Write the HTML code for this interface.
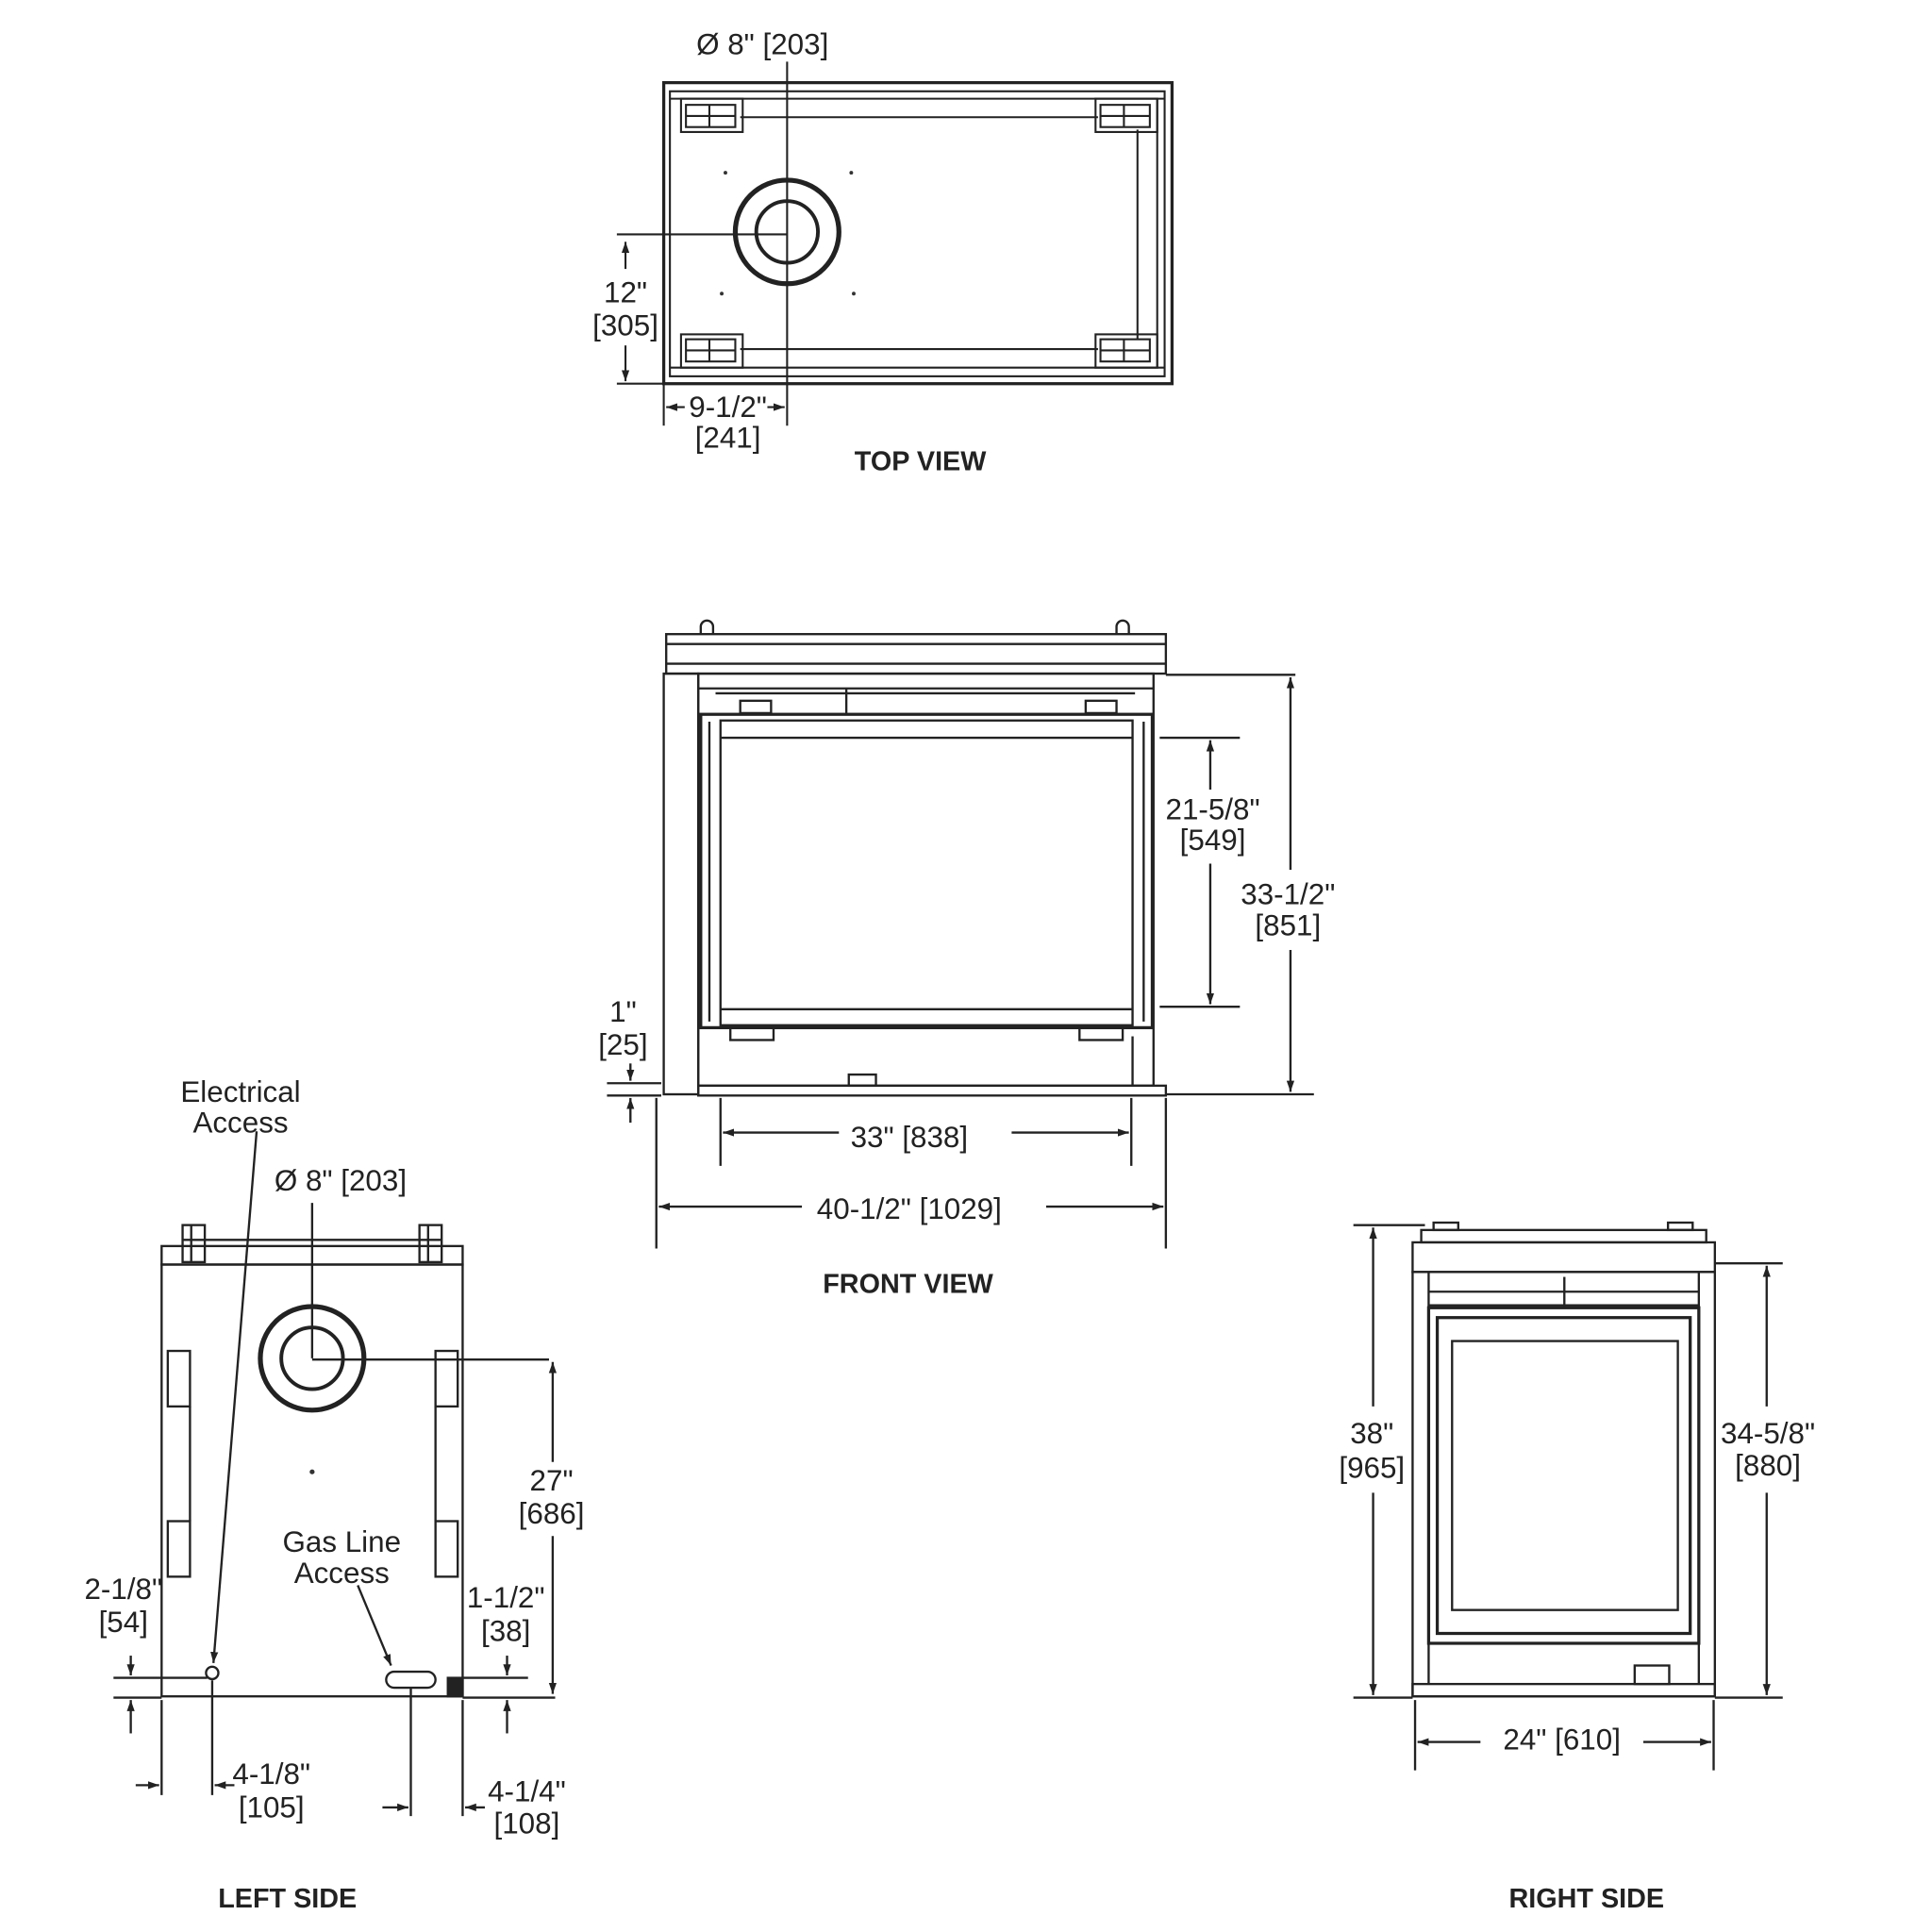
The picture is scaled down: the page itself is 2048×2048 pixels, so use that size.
<!DOCTYPE html>
<html><head><meta charset="utf-8"><style>
html,body{margin:0;padding:0;background:#fff;}
svg{display:block;}
text{font-family:"Liberation Sans",sans-serif;fill:#222;text-anchor:middle;}
.d{font-size:24px;}
.t{font-size:22px;font-weight:bold;}
</style></head><body>
<svg width="2048" height="2048" viewBox="0 0 1566 1566" xmlns="http://www.w3.org/2000/svg">
<defs>
<marker id="a" viewBox="0 0 10 10" refX="10" refY="5" markerWidth="9" markerHeight="9" orient="auto-start-reverse" markerUnits="userSpaceOnUse"><path d="M0,1.5 L10,5 L0,8.5 z" fill="#222"/></marker>
</defs>
<g fill="none" stroke="#222" stroke-width="1.6">
<!-- TOP VIEW -->
<rect x="538" y="67" width="412" height="244" stroke-width="2.5"/>
<rect x="543" y="74" width="401" height="231"/>
<line x1="543" y1="80" x2="944" y2="80"/>
<line x1="543" y1="298" x2="944" y2="298"/>
<line x1="600" y1="95" x2="890" y2="95"/>
<line x1="600" y1="283" x2="890" y2="283"/>
<line x1="922" y1="105" x2="922" y2="275"/>
<line x1="938" y1="80" x2="938" y2="298"/>
<g>
<rect x="552" y="80" width="50" height="27"/><rect x="556" y="85" width="40" height="18"/><line x1="575" y1="85" x2="575" y2="103"/><line x1="556" y1="94" x2="596" y2="94"/>
<rect x="888" y="80" width="50" height="27"/><rect x="892" y="85" width="40" height="18"/><line x1="911" y1="85" x2="911" y2="103"/><line x1="892" y1="94" x2="932" y2="94"/>
<rect x="552" y="271" width="50" height="27"/><rect x="556" y="275" width="40" height="18"/><line x1="575" y1="275" x2="575" y2="293"/><line x1="556" y1="284" x2="596" y2="284"/>
<rect x="888" y="271" width="50" height="27"/><rect x="892" y="275" width="40" height="18"/><line x1="911" y1="275" x2="911" y2="293"/><line x1="892" y1="284" x2="932" y2="284"/>
</g>
<circle cx="638" cy="188" r="42" stroke-width="4"/>
<circle cx="638" cy="188" r="25" stroke-width="3"/>
<line x1="638" y1="50" x2="638" y2="345"/>
<line x1="500" y1="190" x2="638" y2="190"/>
<line x1="500" y1="311" x2="538" y2="311"/>
<line x1="507" y1="218" x2="507" y2="196" marker-end="url(#a)"/>
<line x1="507" y1="280" x2="507" y2="309" marker-end="url(#a)"/>
<line x1="538" y1="311" x2="538" y2="345"/>
<line x1="555" y1="330" x2="540" y2="330" marker-end="url(#a)"/>
<line x1="622" y1="330" x2="636" y2="330" marker-end="url(#a)"/>
</g>
<g fill="#333"><circle cx="588" cy="140" r="1.5"/><circle cx="690" cy="140" r="1.5"/><circle cx="585" cy="238" r="1.5"/><circle cx="692" cy="238" r="1.5"/></g>
<text class="d" x="618" y="44">Ø 8" [203]</text>
<text class="d" x="507" y="245">12"</text>
<text class="d" x="507" y="272">[305]</text>
<text class="d" x="590" y="338">9-1/2"</text>
<text class="d" x="590" y="363">[241]</text>
<text class="t" x="746" y="381">TOP VIEW</text>

<!-- FRONT VIEW -->
<g fill="none" stroke="#222" stroke-width="1.8">
<rect x="540" y="514" width="405" height="32"/>
<line x1="540" y1="522" x2="945" y2="522"/>
<line x1="540" y1="538" x2="945" y2="538"/>
<path d="M568,514 v-6 a5,5 0 0 1 10,0 v6"/>
<path d="M905,514 v-6 a5,5 0 0 1 10,0 v6"/>
<rect x="538" y="546" width="28" height="341"/>
<rect x="566" y="546" width="369" height="334"/>
<line x1="566" y1="558" x2="935" y2="558"/>
<line x1="580" y1="562" x2="920" y2="562"/>
<line x1="686" y1="558" x2="686" y2="578"/>
<rect x="600" y="568" width="25" height="10"/><rect x="880" y="568" width="25" height="10"/>
<rect x="568" y="579" width="366" height="254" stroke-width="2.5"/>
<line x1="575" y1="585" x2="575" y2="828"/><line x1="927" y1="585" x2="927" y2="828"/>
<rect x="584" y="584" width="334" height="247"/>
<line x1="584" y1="598" x2="918" y2="598"/>
<line x1="584" y1="818" x2="918" y2="818"/>
<rect x="592" y="833" width="35" height="10"/><rect x="875" y="833" width="35" height="10"/>
<rect x="566" y="880" width="379" height="8"/>
<rect x="688" y="871" width="22" height="9"/>
<line x1="918" y1="840" x2="918" y2="880"/>
<line x1="940" y1="598" x2="1005" y2="598"/>
<line x1="940" y1="816" x2="1005" y2="816"/>
<line x1="981" y1="640" x2="981" y2="600" marker-end="url(#a)"/>
<line x1="981" y1="700" x2="981" y2="814" marker-end="url(#a)"/>
<line x1="945" y1="547" x2="1050" y2="547"/>
<line x1="945" y1="887" x2="1065" y2="887"/>
<line x1="1046" y1="705" x2="1046" y2="549" marker-end="url(#a)"/>
<line x1="1046" y1="770" x2="1046" y2="885" marker-end="url(#a)"/>
<line x1="492" y1="878" x2="536" y2="878"/>
<line x1="492" y1="888" x2="536" y2="888"/>
<line x1="511" y1="862" x2="511" y2="876" marker-end="url(#a)"/>
<line x1="511" y1="910" x2="511" y2="890" marker-end="url(#a)"/>
<line x1="584" y1="890" x2="584" y2="945"/>
<line x1="917" y1="890" x2="917" y2="945"/>
<line x1="680" y1="918" x2="586" y2="918" marker-end="url(#a)"/>
<line x1="820" y1="918" x2="915" y2="918" marker-end="url(#a)"/>
<line x1="532" y1="890" x2="532" y2="1012"/>
<line x1="945" y1="890" x2="945" y2="1012"/>
<line x1="650" y1="978" x2="534" y2="978" marker-end="url(#a)"/>
<line x1="848" y1="978" x2="943" y2="978" marker-end="url(#a)"/>
</g>
<text class="d" x="983" y="664">21-5/8"</text>
<text class="d" x="983" y="689">[549]</text>
<text class="d" x="1044" y="733">33-1/2"</text>
<text class="d" x="1044" y="758">[851]</text>
<text class="d" x="505" y="828">1"</text>
<text class="d" x="505" y="855">[25]</text>
<text class="d" x="737" y="930">33" [838]</text>
<text class="d" x="737" y="988">40-1/2" [1029]</text>
<text class="t" x="736" y="1048">FRONT VIEW</text>

<!-- LEFT SIDE -->
<g fill="none" stroke="#222" stroke-width="1.8">
<rect x="131" y="1025" width="244" height="350"/>
<rect x="131" y="1010" width="244" height="15"/>
<line x1="148" y1="1005" x2="358" y2="1005"/>
<rect x="148" y="993" width="18" height="30"/><rect x="340" y="993" width="18" height="30"/>
<line x1="155" y1="993" x2="155" y2="1023"/><line x1="347" y1="993" x2="347" y2="1023"/>
<rect x="136" y="1095" width="18" height="45"/><rect x="136" y="1233" width="18" height="45"/>
<line x1="154" y1="1140" x2="154" y2="1233"/>
<rect x="353" y="1095" width="18" height="45"/><rect x="353" y="1233" width="18" height="45"/>
<line x1="353" y1="1140" x2="353" y2="1233"/>
<circle cx="253" cy="1101" r="42" stroke-width="4"/>
<circle cx="253" cy="1101" r="25" stroke-width="3"/>
<line x1="253" y1="975" x2="253" y2="1101"/>
<line x1="253" y1="1102" x2="445" y2="1102"/>
<line x1="375" y1="1376" x2="450" y2="1376"/>
<line x1="448" y1="1185" x2="448" y2="1104" marker-end="url(#a)"/>
<line x1="448" y1="1245" x2="448" y2="1373" marker-end="url(#a)"/>
<line x1="208" y1="917" x2="173" y2="1348" marker-end="url(#a)"/>
<circle cx="172" cy="1356" r="5"/>
<line x1="290" y1="1285" x2="317" y2="1350" marker-end="url(#a)"/>
<rect x="313" y="1355" width="40" height="13" rx="6.5"/>
<rect x="363" y="1360" width="12" height="15" fill="#222"/>
<line x1="92" y1="1360" x2="168" y2="1360"/>
<line x1="92" y1="1376" x2="131" y2="1376"/>
<line x1="106" y1="1342" x2="106" y2="1358" marker-end="url(#a)"/>
<line x1="106" y1="1405" x2="106" y2="1378" marker-end="url(#a)"/>
<line x1="375" y1="1360" x2="428" y2="1360"/>
<line x1="411" y1="1342" x2="411" y2="1358" marker-end="url(#a)"/>
<line x1="411" y1="1405" x2="411" y2="1378" marker-end="url(#a)"/>
<line x1="131" y1="1378" x2="131" y2="1455"/>
<line x1="172" y1="1362" x2="172" y2="1455"/>
<line x1="333" y1="1368" x2="333" y2="1472"/>
<line x1="375" y1="1378" x2="375" y2="1472"/>
<line x1="110" y1="1447" x2="129" y2="1447" marker-end="url(#a)"/>
<line x1="190" y1="1447" x2="174" y2="1447" marker-end="url(#a)"/>
<line x1="310" y1="1465" x2="331" y2="1465" marker-end="url(#a)"/>
<line x1="393" y1="1465" x2="377" y2="1465" marker-end="url(#a)"/>
</g>
<circle cx="253" cy="1193" r="2" fill="#333"/>
<text class="d" x="195" y="893">Electrical</text>
<text class="d" x="195" y="918">Access</text>
<text class="d" x="276" y="965">Ø 8" [203]</text>
<text class="d" x="447" y="1208">27"</text>
<text class="d" x="447" y="1235">[686]</text>
<text class="d" x="277" y="1258">Gas Line</text>
<text class="d" x="277" y="1283">Access</text>
<text class="d" x="100" y="1296">2-1/8"</text>
<text class="d" x="100" y="1323">[54]</text>
<text class="d" x="410" y="1303">1-1/2"</text>
<text class="d" x="410" y="1330">[38]</text>
<text class="d" x="220" y="1446">4-1/8"</text>
<text class="d" x="220" y="1473">[105]</text>
<text class="d" x="427" y="1460">4-1/4"</text>
<text class="d" x="427" y="1486">[108]</text>
<text class="t" x="233" y="1546">LEFT SIDE</text>

<!-- RIGHT SIDE -->
<g fill="none" stroke="#222" stroke-width="1.8">
<rect x="1152" y="997" width="231" height="10"/>
<rect x="1162" y="991" width="20" height="6"/><rect x="1352" y="991" width="20" height="6"/>
<rect x="1145" y="1007" width="245" height="24"/>
<rect x="1145" y="1031" width="245" height="344"/>
<line x1="1158" y1="1031" x2="1158" y2="1365"/>
<line x1="1377" y1="1031" x2="1377" y2="1365"/>
<line x1="1158" y1="1047" x2="1377" y2="1047"/>
<line x1="1158" y1="1058" x2="1377" y2="1058"/>
<line x1="1268" y1="1035" x2="1268" y2="1060"/>
<rect x="1158" y="1060" width="219" height="272" stroke-width="2.5"/>
<rect x="1165" y="1068" width="205" height="256" stroke-width="2.5"/>
<rect x="1177" y="1087" width="183" height="218"/>
<rect x="1145" y="1365" width="245" height="10"/>
<rect x="1325" y="1350" width="28" height="15"/>
<line x1="1097" y1="993" x2="1155" y2="993"/>
<line x1="1097" y1="1376" x2="1145" y2="1376"/>
<line x1="1113" y1="1140" x2="1113" y2="995" marker-end="url(#a)"/>
<line x1="1113" y1="1210" x2="1113" y2="1374" marker-end="url(#a)"/>
<line x1="1390" y1="1024" x2="1445" y2="1024"/>
<line x1="1390" y1="1376" x2="1445" y2="1376"/>
<line x1="1432" y1="1140" x2="1432" y2="1026" marker-end="url(#a)"/>
<line x1="1432" y1="1210" x2="1432" y2="1374" marker-end="url(#a)"/>
<line x1="1147" y1="1378" x2="1147" y2="1435"/>
<line x1="1389" y1="1378" x2="1389" y2="1435"/>
<line x1="1200" y1="1412" x2="1149" y2="1412" marker-end="url(#a)"/>
<line x1="1332" y1="1412" x2="1387" y2="1412" marker-end="url(#a)"/>
</g>
<text class="d" x="1112" y="1170">38"</text>
<text class="d" x="1112" y="1198">[965]</text>
<text class="d" x="1433" y="1170">34-5/8"</text>
<text class="d" x="1433" y="1196">[880]</text>
<text class="d" x="1266" y="1418">24" [610]</text>
<text class="t" x="1286" y="1546">RIGHT SIDE</text>
</svg>
</body></html>
